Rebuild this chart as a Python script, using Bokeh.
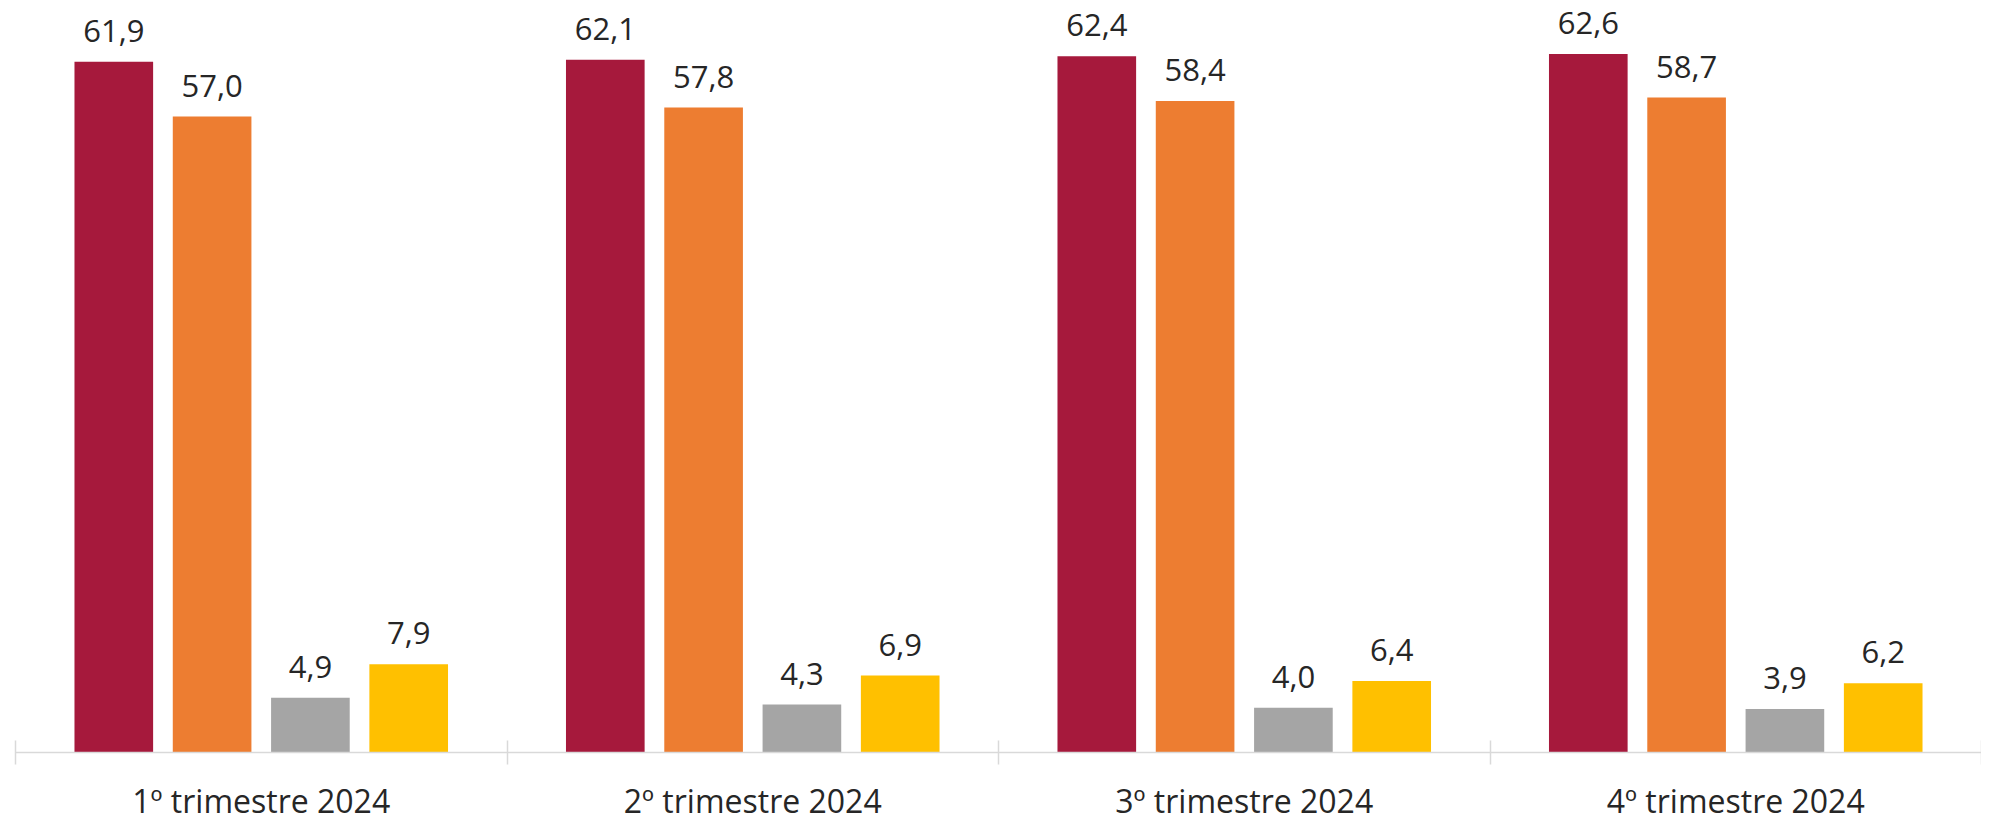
from bokeh.plotting import figure
from bokeh.models import ColumnDataSource, Range1d, FixedTicker, LinearAxis
from bokeh.core.properties import value
from bokeh.embed import file_html
from bokeh.resources import INLINE

categories = ["1º trimestre 2024", "2º trimestre 2024", "3º trimestre 2024", "4º trimestre 2024"]
series_a = [61.9, 62.1, 62.4, 62.6]
series_b = [57.0, 57.8, 58.4, 58.7]
series_c = [4.9, 4.3, 4.0, 3.9]
series_d = [7.9, 6.9, 6.4, 6.2]

series = [series_a, series_b, series_c, series_d]
colors = ["#A6193C", "#ED7D31", "#A5A5A5", "#FFC000"]
offsets = [-0.3, -0.1, 0.1, 0.3]
bar_w = 0.16
FONT = "Open Sans"
TXT = "#262626"

p = figure(frame_width=1966, frame_height=752, output_backend="svg", toolbar_location=None,
           x_range=Range1d(0, len(categories)), y_range=Range1d(0, 67.4),
           min_border_left=15, min_border_right=0, min_border_top=0, min_border_bottom=0)
p.outline_line_color = None
p.grid.visible = False
p.yaxis.visible = False
p.background_fill_color = "white"
p.border_fill_color = "white"

for vals, col, off in zip(series, colors, offsets):
    src = ColumnDataSource(dict(
        x=[i + 0.5 + off for i in range(len(categories))],
        top=vals,
        lab=[f"{v:.1f}".replace(".", ",") for v in vals],
    ))
    p.vbar(x="x", top="top", width=bar_w, bottom=0, source=src,
           fill_color=col, line_color=None)
    p.text(x="x", y="top", text="lab", source=src, text_align="center",
           text_baseline="middle", y_offset=-31, text_color=TXT,
           text_font=value(FONT), text_font_size="31px")

ax = p.xaxis[0]
ax.ticker = FixedTicker(ticks=list(range(len(categories) + 1)))
ax.major_label_overrides = {i: "" for i in range(len(categories) + 1)}
ax.major_label_text_font_size = "1px"
ax.major_label_standoff = 0
ax.axis_line_color = "#D9D9D9"
ax.axis_line_width = 1.5
ax.major_tick_line_color = "#D9D9D9"
ax.major_tick_line_width = 1.5
ax.major_tick_in = 12
ax.major_tick_out = 12
ax.minor_tick_line_color = None

ax2 = LinearAxis(ticker=FixedTicker(ticks=[i + 0.5 for i in range(len(categories))]))
ax2.major_label_overrides = {i + 0.5: c for i, c in enumerate(categories)}
ax2.axis_line_color = None
ax2.major_tick_line_color = None
ax2.minor_tick_line_color = None
ax2.major_tick_in = 0
ax2.major_tick_out = 0
ax2.major_label_text_font = FONT
ax2.major_label_text_font_size = "32px"
ax2.major_label_text_color = TXT
ax2.major_label_standoff = 14
p.add_layout(ax2, "below")

open("out.html", "w").write(file_html(p, INLINE))
